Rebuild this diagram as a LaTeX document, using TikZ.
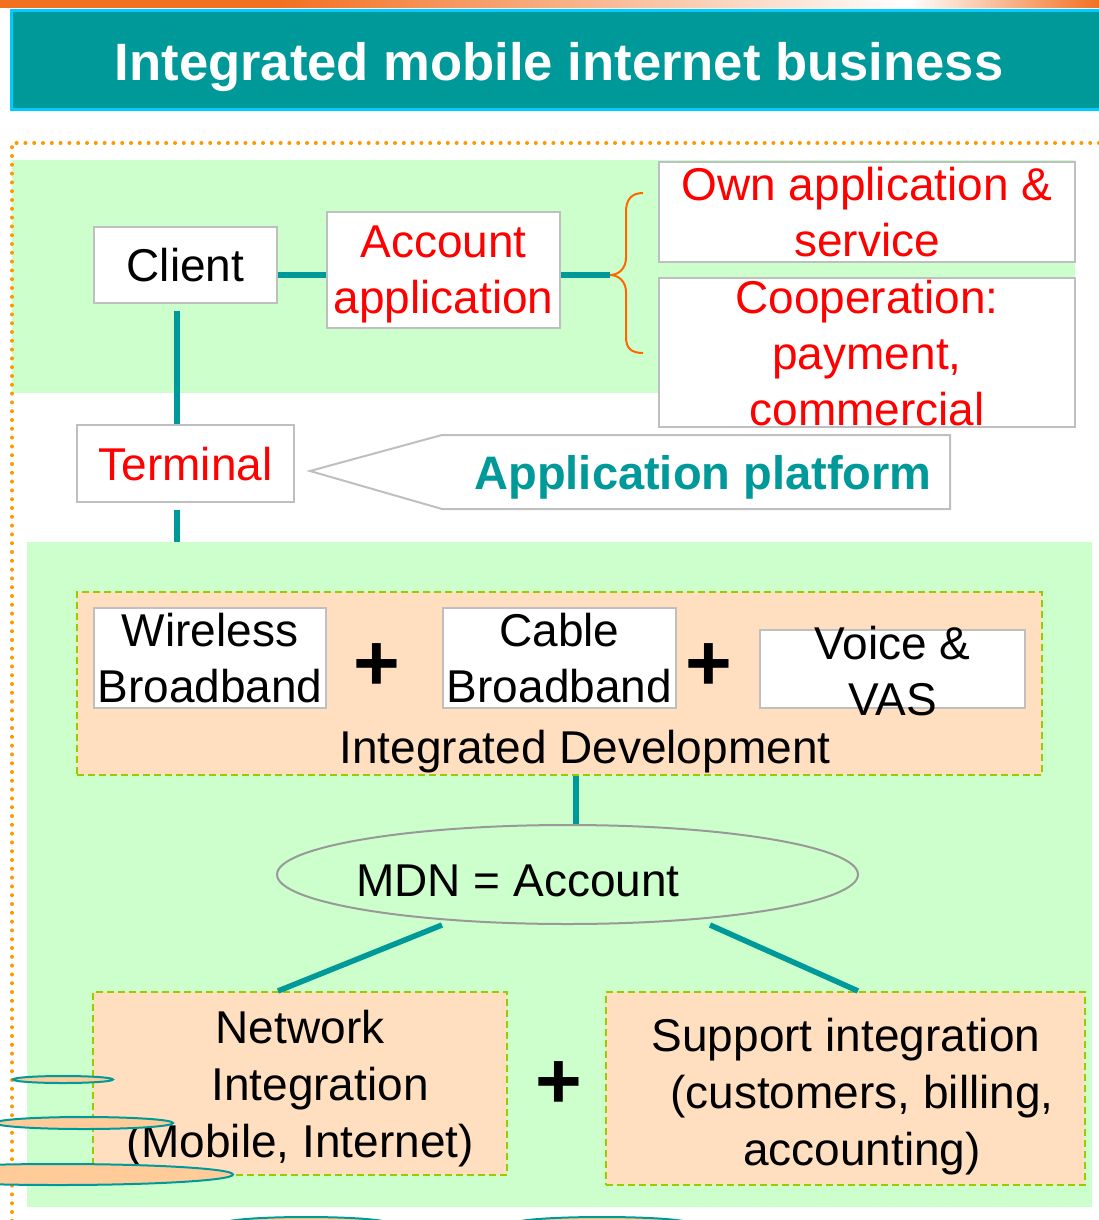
\documentclass[tikz,border=0pt]{standalone}
\usepackage{fontspec}
\setmainfont{Liberation Sans}
\usetikzlibrary{shapes.geometric,calc}

\definecolor{barorange}{HTML}{F37021}
\definecolor{titlefill}{HTML}{009999}
\definecolor{titleborder}{HTML}{00CCFF}
\definecolor{dotorange}{HTML}{FF9900}
\definecolor{palegreen}{HTML}{CCFFCC}
\definecolor{peach}{HTML}{FFDFC0}
\definecolor{dashgreen}{HTML}{99CC00}
\definecolor{boxgray}{HTML}{BFBFBF}
\definecolor{ellgray}{HTML}{999999}
\definecolor{linkteal}{HTML}{009999}
\definecolor{braceorange}{HTML}{FF6600}
\definecolor{discfill}{HTML}{FFCC99}

\begin{document}
\begin{tikzpicture}[x=1pt, y=-1pt, font=\fontsize{46}{56}\selectfont,
  box/.style={draw=boxgray, line width=2.4pt, fill=white, inner sep=0pt, align=center, text depth=0pt},
  dashbox/.style={draw=dashgreen, line width=2pt, dash pattern=on 7pt off 4pt, fill=peach, inner sep=0pt},
  link/.style={draw=linkteal, line width=6pt},
  plus/.style={font=\fontsize{80}{80}\selectfont\bfseries, inner sep=0pt},
  disc/.style={draw=linkteal, line width=2pt, fill=discfill}]

% The page is exactly the size of the slide picture (in pixels)
\useasboundingbox (0,0) rectangle (1099,1220);
\clip (0,0) rectangle (1099,1220);

% Reference points
\coordinate (brace tip) at (610,275);
\coordinate (stem)      at (177,542);

% Orange bar and title
\fill[barorange] (0,0) rectangle (281,8);
\shade[left color=barorange, right color=white] (280,0) rectangle (910,8);
\shade[left color=white, right color=barorange] (909,0) rectangle (1099,8);
\draw[draw=titleborder, fill=titlefill, line width=3pt] (11.5,10.5) rectangle (1110,109.5);
\node[anchor=base, text=white, font=\fontsize{52.6}{60}\selectfont\bfseries] (title) at (559,81)
  {Integrated mobile internet business};

% Green areas and dotted frame
\fill[palegreen] (12,160) rectangle (1075,393);
\fill[palegreen] (27,542) rectangle (1092,1207);
\draw[dotorange, line width=4pt, line cap=round, dash pattern=on 0pt off 8.8pt]
  (1099,143) -- (12,143) -- (12,1225);

% Upper part: client and application
\node[box, minimum width=183, minimum height=76] (client) at (185.5,265) {Client};
\node[box, text=red, minimum width=233, minimum height=116] (acct) at (443.5,270) {Account\\application};
\node[box, text=red, minimum width=416, minimum height=100] (own) at (867,212) {Own application \&\\service};
\node[box, text=red, minimum width=416, minimum height=149] (coop) at (867,352.5) {Cooperation:\\payment,\\commercial};
\node[box, text=red, minimum width=217, minimum height=77] (term) at (185.5,463.5) {Terminal};

\draw[link] (client.east |- brace tip) -- (acct.west |- brace tip);
\draw[link] (acct.east |- brace tip) -- (brace tip);
\draw[braceorange, line width=2pt]
  (643,193) .. controls (631,193) and (626,200) .. (626,212) -- (626,258)
  .. controls (626,268) and (619,275) .. (brace tip)
  .. controls (619,275) and (626,282) .. (626,292) -- (626,337)
  .. controls (626,348) and (631,353) .. (643,353);
\draw[link] ([yshift=-7]client.south -| stem) -- (term.north -| stem);
\draw[link] ([yshift=-7]term.south -| stem) -- (stem);

% Application platform arrow
\draw[draw=boxgray, line width=2pt, fill=white]
  (310,471) -- (442,435) -- (950,435) -- (950,509) -- (442,509) -- cycle;
\node[anchor=base, text=linkteal, font=\fontsize{47}{56}\selectfont\bfseries] (platform) at (703,489)
  {Application platform};

% Integrated development
\node[dashbox, minimum width=965, minimum height=183] (intDev) at (559.5,683.5) {};
\node[box, minimum width=232, minimum height=100] (wireless) at (210,658) {Wireless\\Broadband};
\node[box, minimum width=233, minimum height=100] (cable) at (559.5,658) {Cable\\Broadband};
\node[box, minimum width=265, minimum height=78] (voice) at (892.5,669) {};
\node[anchor=base, align=center, inner sep=0pt] (voiceText) at (892.5,715) {Voice \&\\VAS};
\node[plus] (plus1) at (377,667) {+};
\node[plus] (plus2) at (709,667) {+};
\node[anchor=base, inner sep=0pt] (intDevText) at (585,763) {Integrated Development};

% Account
\node[ellipse, draw=ellgray, line width=2pt, inner sep=0pt, minimum width=581, minimum height=99] (mdn) at (567.5,874.5) {};
\node[anchor=base, inner sep=0pt] (mdnText) at (518,896) {MDN = Account};
\draw[link] ([xshift=16.5]intDev.south) -- ([xshift=16.5]intDev.south |- mdn.north);

% Lower part: network and support
\node[dashbox, minimum width=414, minimum height=183] (net) at (300,1083.5) {};
\node[anchor=base, align=center, inner sep=0pt, font=\fontsize{46}{57}\selectfont] (netText) at (300,1157)
  {Network\\\hspace*{40pt}Integration\\(Mobile, Internet)};
\node[dashbox, minimum width=479, minimum height=193] (supp) at (845.5,1088.5) {};
\node[anchor=base, align=center, inner sep=0pt, font=\fontsize{46}{57}\selectfont] (suppText) at (862,1165.5)
  {Support integration\hspace*{32pt}\\(customers, billing,\\accounting)};
\node[plus] (plus3) at (559,1085) {+};
\draw[link, line width=5.5pt] ([xshift=-125.5]mdn.south) -- ([xshift=-22]net.north);
\draw[link, line width=5.5pt] ([xshift=142.5]mdn.south) -- ([xshift=12.5]supp.north);

% Discs at the left and bottom edge
\draw[disc] (63,1079.5) ellipse [x radius=50, y radius=3.5];
\draw[disc] (84,1123) ellipse [x radius=89, y radius=6];
\draw[disc] (58,1174.5) ellipse [x radius=175, y radius=10.5];
\draw[disc] (306,1223.5) ellipse [x radius=83, y radius=6.5];
\draw[disc] (602,1223.5) ellipse [x radius=88, y radius=6.5];

\end{tikzpicture}
\end{document}
